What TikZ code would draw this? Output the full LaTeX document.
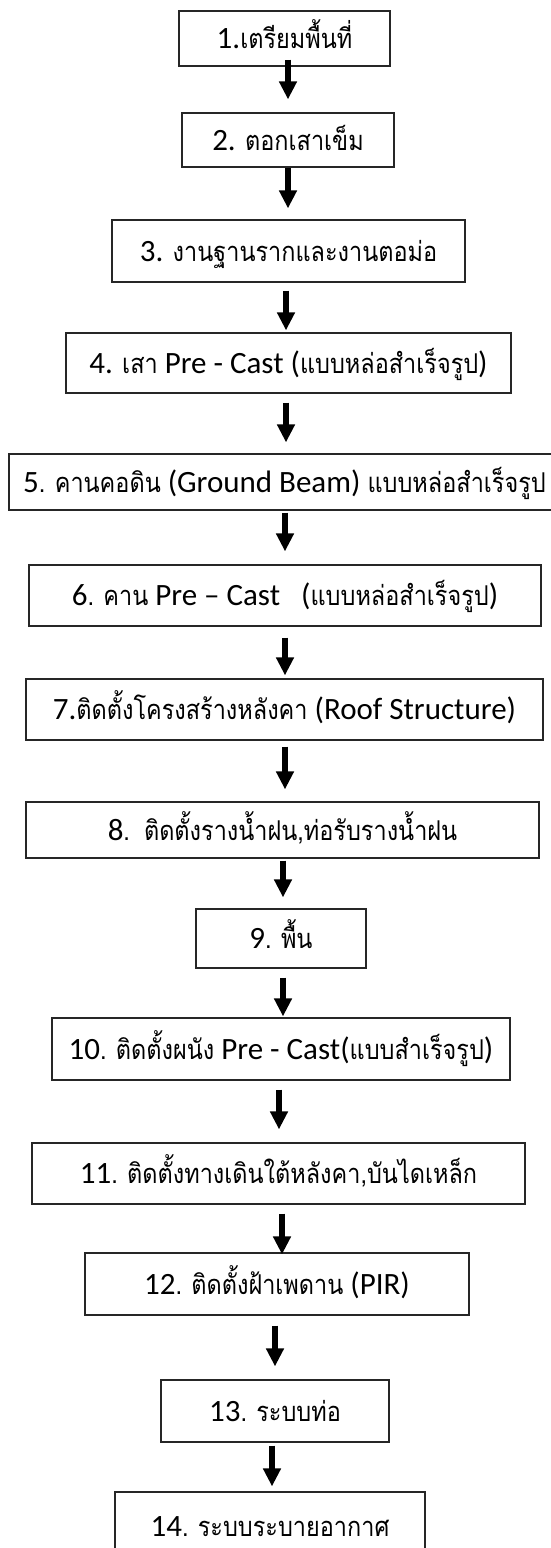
\documentclass[tikz,border=0pt]{standalone}
\usepackage{fontspec}
\setmainfont{Carlito}
\newfontfamily\thaifont[Script=Thai,Scale=0.88,FakeStretch=0.86]{Loma}
\newcommand{\tht}[1]{{\thaifont #1}}
\usetikzlibrary{arrows.meta}

\begin{document}
\begin{tikzpicture}[
  x=0.5pt, y=-0.5pt,
  stepbox/.style 2 args={rectangle, draw=black!85, line width=0.6pt, align=center,
              inner sep=0pt, font=\fontsize{15.5}{18}\selectfont,
              text height=12pt, text depth=2pt,
              minimum width=#1*0.5pt, minimum height=#2*0.5pt},
  arr/.style={-{Triangle[length=9pt, width=8.5pt]}, line width=3pt, draw=black}
]
\clip (0,0) rectangle (551,1548);
\node[stepbox={211}{55}] (b1) at (284.5,38.5) {1.\tht{เตรียมพื้นที่}};
\node[stepbox={212}{54}] (b2) at (288,140) {2. \tht{ตอกเสาเข็ม}};
\node[stepbox={353}{62}] (b3) at (288.5,251) {3. \tht{งานฐานรากและงานตอม่อ}};
\node[stepbox={445}{60}] (b4) at (288.5,363) {4. \tht{เสา} Pre - Cast (\tht{แบบหล่อสำเร็จรูป})};
\node[stepbox={551}{56}] (b5) at (284.5,482) {5\tht{.} \tht{คานคอดิน} (Ground Beam) \tht{แบบหล่อสำเร็จรูป}};
\node[stepbox={512}{61}] (b6) at (285,595.5) {6\tht{.} \tht{คาน} Pre -- Cast\ \ \ (\tht{แบบหล่อสำเร็จรูป})};
\node[stepbox={517}{61}] (b7) at (284.5,709.5) {7.\tht{ติดตั้งโครงสร้างหลังคา} (Roof Structure)};
\node[stepbox={513}{56}] (b8) at (282.5,830) {8\tht{.}\ \ \tht{ติดตั้งรางน้ำฝน,ท่อรับรางน้ำฝน}};
\node[stepbox={170}{59}] (b9) at (281,938.5) {9\tht{.} \tht{พื้น}};
\node[stepbox={458}{62}] (b10) at (281,1049) {10\tht{.} \tht{ติดตั้งผนัง} Pre - Cast(\tht{แบบสำเร็จรูป})};
\node[stepbox={493}{61}] (b11) at (278.5,1173.5) {11\tht{.} \tht{ติดตั้งทางเดินใต้หลังคา,บันไดเหล็ก}};
\node[stepbox={384}{62}] (b12) at (277,1284) {12\tht{.} \tht{ติดตั้งฝ้าเพดาน} (PIR)};
\node[stepbox={228}{62}] (b13) at (275,1411) {13\tht{.} \tht{ระบบท่อ}};
\node[stepbox={310}{68}] (b14) at (270,1526) {14\tht{.} \tht{ระบบระบายอากาศ}};
\draw[arr] ([shift={(3.5,-7)}]b1.south) -- ([shift={(0,-13)}]b2.north);
\draw[arr] (b2.south) -- ([shift={(-0.5,-11)}]b3.north);
\draw[arr] ([shift={(-2.5,8)}]b3.south) -- ([shift={(-2.5,-2)}]b4.north);
\draw[arr] ([shift={(-2.5,9)}]b4.south) -- ([shift={(1.5,-11)}]b5.north);
\draw[arr] ([shift={(0.5,2)}]b5.south) -- ([shift={(0,-13)}]b6.north);
\draw[arr] ([shift={(0,11)}]b6.south) -- ([shift={(0.5,-3)}]b7.north);
\draw[arr] ([shift={(0.5,6)}]b7.south) -- ([shift={(2.5,-12)}]b8.north);
\draw[arr] ([shift={(0.5,2)}]b8.south) -- ([shift={(2,-11)}]b9.north);
\draw[arr] ([shift={(2,9)}]b9.south) -- ([shift={(2,-1)}]b10.north);
\draw[arr] ([shift={(-2,9)}]b10.south) -- ([shift={(0.5,-13)}]b11.north);
\draw[arr] ([shift={(3.5,9)}]b11.south) -- ([shift={(5,2)}]b12.north);
\draw[arr] ([shift={(-2,10)}]b12.south) -- ([shift={(0,-13)}]b13.north);
\draw[arr] ([shift={(-3,3)}]b13.south) -- ([shift={(2,-5)}]b14.north);
\end{tikzpicture}
\end{document}
